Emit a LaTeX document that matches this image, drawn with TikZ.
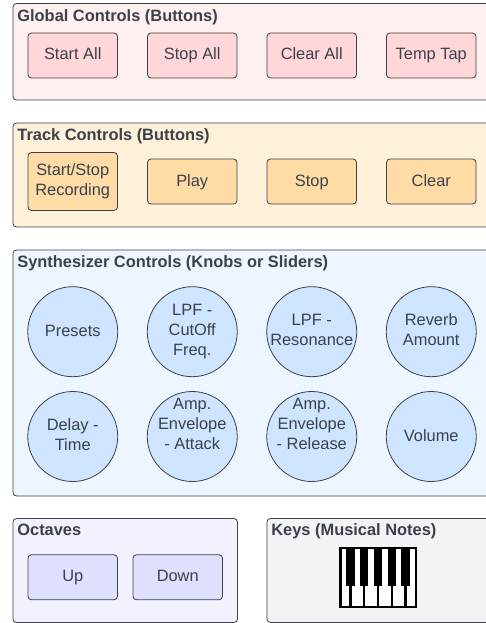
\documentclass[tikz,border=0pt]{standalone}
\usepackage{fontspec}
\setmainfont{Liberation Sans}
\usepackage{tikz}
\usetikzlibrary{positioning,chains}

\definecolor{inkgrey}{HTML}{3A414A}
\definecolor{globalbg}{HTML}{FFF0F0}
\definecolor{globalbtn}{HTML}{FFD6D9}
\definecolor{trackbg}{HTML}{FFF1D9}
\definecolor{trackbtn}{HTML}{FFDCA6}
\definecolor{synthbg}{HTML}{EDF5FF}
\definecolor{synthknob}{HTML}{CFE4FF}
\definecolor{octavebg}{HTML}{F2F2FF}
\definecolor{octavebtn}{HTML}{DFDFFF}
\definecolor{keysbg}{HTML}{F2F3F5}
\newcommand{\btnstrut}{\rule[-5.5pt]{0pt}{20pt}}
\newcommand{\knobstrut}{\rule[-5pt]{0pt}{20pt}}
\newcommand{\lift}{\rule{0pt}{13.5pt}}

\begin{document}
\begin{tikzpicture}[x=1pt, y=-1pt, node distance=30pt, line width=0.8pt, inkgrey,
	panel/.style={draw, rounded corners=3.5pt, anchor=north west, outer sep=0pt},
	paneltitle/.style={anchor=base west, inner sep=0pt, font=\fontsize{16.4}{20}\selectfont\bfseries},
	button/.style={draw, rounded corners=3.5pt, on chain, outer sep=0pt, inner sep=0pt, align=center, minimum width=89.5pt, minimum height=45pt, font=\fontsize{16.4}{20}\selectfont, execute at begin node=\btnstrut, execute at end node=\btnstrut},
	knob/.style={draw, circle, on chain, fill=synthknob, outer sep=0pt, inner sep=-12pt, align=center, minimum size=90pt, font=\fontsize{16.4}{20}\selectfont, execute at begin node=\knobstrut, execute at end node=\knobstrut}]
	\useasboundingbox (0,0) rectangle (486,623);
	\clip (0,0) rectangle (486,623);

	\node (globalpanel) at (13,3.5) [panel, fill=globalbg, minimum width=500pt, minimum height=96.5pt] {};
	\node (trackpanel) at (13,123) [panel, fill=trackbg, minimum width=500pt, minimum height=104pt] {};
	\node (synthpanel) at (13,250) [panel, fill=synthbg, minimum width=500pt, minimum height=246pt] {};
	\node (octavepanel) at (13,518.5) [panel, fill=octavebg, minimum width=224.5pt, minimum height=104pt] {};
	\node (keyspanel) at (267,518.5) [panel, fill=keysbg, minimum width=240pt, minimum height=104pt] {};

	\node (globaltitle) at (17,21.2) [paneltitle] {Global Controls (Buttons)};
	\node (tracktitle) at (17,140.2) [paneltitle] {Track Controls (Buttons)};
	\node (synthtitle) at (17,267.2) [paneltitle] {Synthesizer Controls (Knobs or Sliders)};
	\node (octavetitle) at (17,535.7) [paneltitle] {Octaves};
	\node (keystitle) at (271,535.7) [paneltitle] {Keys (Musical Notes)};

	\begin{scope}[start chain=going right, button/.append style={fill=globalbtn}]
		\node (startall) at (72.75,55.5) [button] {Start All};
		\node (stopall) [button] {Stop All};
		\node (clearall) [button] {Clear All};
		\node (temptap) [button] {Temp Tap};
	\end{scope}

	\begin{scope}[start chain=going right, button/.append style={fill=trackbtn}]
		\node (record) at (72.75,181.5) [button, minimum height=58pt] {\lift Start/Stop\\Recording};
		\node (play) [button] {Play};
		\node (stop) [button] {Stop};
		\node (clear) [button] {Clear};
	\end{scope}

	\begin{scope}[start chain=going right, node distance=29.5pt]
		\node (presets) at (72.75,331.7) [knob] {Presets};
		\node (cutoff) [knob] {\lift LPF -\\CutOff\\Freq.};
		\node (resonance) [knob] {\lift LPF -\\Resonance};
		\node (reverb) [knob] {\lift Reverb\\Amount};
	\end{scope}

	\begin{scope}[start chain=going right, node distance=29.5pt]
		\node (delay) at (72.75,436.5) [knob] {\lift Delay -\\Time};
		\node (attack) [knob] {\lift Amp.\\Envelope\\- Attack\\[3pt]~};
		\node (release) [knob] {\lift Amp.\\Envelope\\- Release\\[3pt]~};
		\node (volume) [knob] {Volume};
	\end{scope}

	\begin{scope}[start chain=going right, node distance=15.5pt, button/.append style={fill=octavebtn}]
		\node (up) at (72.75,577.25) [button] {Up};
		\node (down) [button] {Down};
	\end{scope}

	% keyboard icon
	\node (keyboard) at (378.3,577.5) [draw=black, line width=2.5pt, fill=white, minimum width=75.5pt, minimum height=59.1pt] {};
	\foreach \k in {0,...,4} {
		\fill [black] (350.5+13.75*\k-4.2,547) rectangle (350.5+13.75*\k+4.2,586);
		\fill [black] (350.5+13.75*\k-1.2,586) rectangle (350.5+13.75*\k+1.2,608);
	}
\end{tikzpicture}
\end{document}
